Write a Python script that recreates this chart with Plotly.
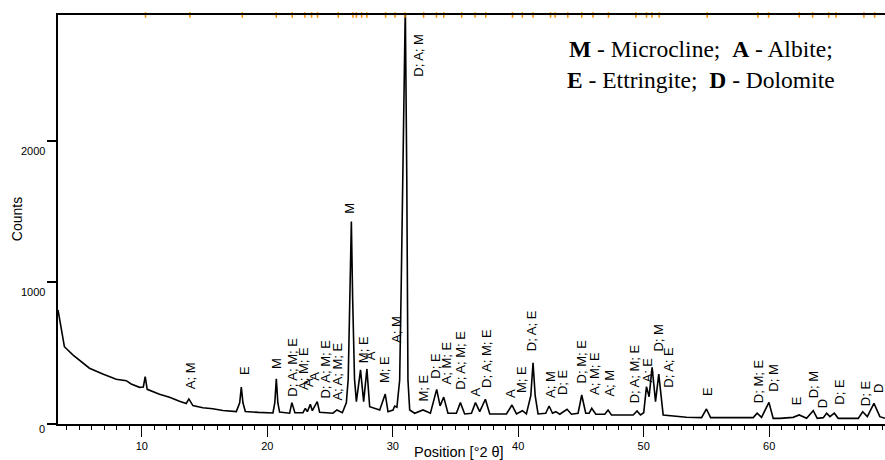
import plotly.graph_objects as go

# ---- diffraction pattern (2theta, counts) ----
two_theta = [3.32, 3.83, 4.5, 5.83, 6.89, 7.96, 8.76, 9.15, 9.82, 10.12, 10.27, 10.43,
             11.41, 12.21, 13.0, 13.54, 13.75, 14.07, 14.86, 15.66, 16.46, 17.53, 17.8, 17.93,
             18.06, 18.25, 19.3, 20.45, 20.6, 20.72, 20.84, 20.98, 21.78, 21.96, 22.2, 22.84,
             23.03, 23.19, 23.43, 23.59, 23.98, 24.17, 25.23, 25.55, 25.98, 26.3, 26.45,
             26.6, 26.7, 26.8, 26.95, 27.1, 27.43, 27.68, 27.94, 28.16, 28.96, 29.4, 29.62,
             30.02, 30.15, 30.33, 30.55, 30.68, 30.85, 31.0, 31.12, 31.21, 31.35, 31.75,
             32.41, 33.0, 33.5, 33.77, 34.06, 34.4, 35.07, 35.39, 35.73, 36.27, 36.59, 36.93,
             37.38, 37.73, 39.06, 39.5, 39.86, 40.33, 40.65, 41.0, 41.18, 41.35, 41.58, 42.19,
             42.46, 42.73, 42.99, 43.31, 43.89, 44.24, 44.77, 45.06, 45.38, 45.65, 45.86,
             46.18, 46.9, 47.16, 47.43, 49.16, 49.47, 49.74, 50.0, 50.22, 50.43, 50.67, 50.94,
             51.2, 51.55, 53.41, 54.61, 55.0, 55.33, 58.73, 59.04, 59.39, 59.98, 60.32, 60.85,
             61.91, 62.39, 62.98, 63.51, 63.83, 64.31, 64.58, 64.84, 65.19, 65.5, 67.1, 67.45,
             67.82, 68.35, 68.82, 69.22]
counts = [806, 546, 488, 394, 353, 316, 306, 283, 259, 262, 334, 245,
          210, 189, 160, 145, 177, 130, 115, 108, 95, 88, 150, 260,
          150, 88, 82, 78, 150, 320, 150, 84, 76, 151, 80, 80,
          111, 87, 139, 94, 158, 83, 76, 99, 80, 150, 320,
          900, 1430, 900, 320, 158, 382, 158, 389, 122, 99, 212, 87,
          99, 127, 118, 311, 1018, 2100, 2950, 1700, 311, 99, 76,
          99, 76, 245, 128, 190, 76, 76, 151, 71, 76, 151, 87,
          175, 71, 71, 134, 71, 94, 71, 200, 433, 200, 71, 76,
          127, 76, 87, 69, 104, 69, 76, 205, 76, 76, 111,
          69, 69, 99, 64, 64, 92, 64, 80, 264, 193, 401, 158,
          353, 64, 48, 45, 106, 45, 45, 76, 47, 153, 40, 40,
          47, 64, 40, 94, 40, 45, 76, 52, 76, 40, 40, 87,
          52, 146, 52, 40]

# ---- phase labels over the peaks ----
label_text = ["A; M", "E", "M", "D; A; M; E", "A; M; E", "A", "A", "D; A; M; E", "A; A; M; E",
              "M", "M; E", "A", "M; E", "A; M", "D; A; M", "M; E", "D; E", "A; M; E",
              "D; A; M; E", "A", "D; A; M; E", "A", "M; E", "D; A; E", "A; M", "D; E",
              "D; M; E", "A; M; E", "A; M", "D; A; M; E", "A; E", "D; M", "D; A; E", "E",
              "D; M; E", "D; M", "E", "D; M", "D", "D; E", "D; E", "D"]
label_theta = [13.84, 18.23, 20.74, 22.04, 22.9, 23.33, 23.81, 24.63, 25.63,
               26.56, 27.68, 28.24, 29.35, 30.29, 32.09, 32.46, 33.42, 34.27,
               35.39, 36.61, 37.46, 39.38, 40.26, 41.05, 42.57, 43.52,
               45.04, 46.02, 47.3, 49.29, 50.27, 51.15, 51.95, 55.14,
               59.12, 60.32, 62.13, 63.56, 64.26, 65.64, 67.63, 68.72]
label_counts = [228, 329, 375, 182, 228, 245, 288, 165, 151,
                1472, 417, 438, 276, 558, 2443, 146, 304, 264,
                228, 182, 240, 170, 205, 500, 170, 193,
                276, 193, 182, 134, 276, 495, 240, 182,
                134, 212, 122, 170, 99, 122, 111, 205]

# ---- reference peak markers along the top border ----
ref_theta = [10.30, 13.83, 18.01, 20.72, 21.99, 23.0, 23.53, 24.01, 25.66, 26.83, 27.10,
             27.52, 27.94, 29.43, 30.18, 30.97, 32.46, 33.48, 34.06, 35.49, 36.56, 37.41,
             39.54, 40.33, 41.18, 42.57, 42.94, 43.95, 45.06, 45.96, 47.19, 49.37, 50.22,
             50.65, 51.23, 55.06, 59.10, 59.95, 62.39, 63.46, 64.74, 65.32, 67.55, 68.40]

y_ticks = [0, 1000, 2000]
x_range = [3.32, 69.23]
y_top = 2890

fig = go.Figure()
fig.add_trace(go.Scatter(x=two_theta, y=counts, mode="lines",
                         line=dict(color="black", width=1.6), hoverinfo="skip"))
fig.add_trace(go.Scatter(x=ref_theta, y=[y_top] * len(ref_theta), mode="markers",
                         marker=dict(symbol="line-ns", size=4, color="#ff8c00",
                                     line=dict(color="#ff8c00", width=1.5)),
                         cliponaxis=False, hoverinfo="skip"))

ann = []
for t, xv, yv in zip(label_text, label_theta, label_counts):
    ann.append(dict(x=xv, y=yv, xref="x", yref="y", text=t, textangle=-90,
                    showarrow=False, xanchor="center", yanchor="bottom",
                    font=dict(family="Liberation Sans, Arial", size=13, color="black")))
for v in y_ticks:
    ann.append(dict(x=0, y=v, xref="paper", yref="y", text=str(v), showarrow=False,
                    xanchor="right", yanchor="middle", xshift=-11,
                    yshift=-10 if v else -5,
                    font=dict(family="Liberation Sans, Arial", size=11, color="black")))
ann.append(dict(x=-0.05, y=0.5, xref="paper", yref="paper", text="Counts",
                textangle=-90, showarrow=False, xanchor="center", yanchor="middle",
                font=dict(family="Liberation Sans, Arial", size=14, color="black")))
ann.append(dict(x=35.3, y=-0.068, xref="x", yref="paper", text="Position [°2 θ]",
                showarrow=False, xanchor="center", yanchor="middle",
                font=dict(family="Liberation Sans, Arial", size=14.5, color="black")))
ann.append(dict(x=0.777, y=0.88, xref="paper", yref="paper",
                text="<b>M</b> - Microcline;&nbsp; <b>A</b> - Albite;<br>"
                     "<b>E</b> - Ettringite;&nbsp; <b>D</b> - Dolomite",
                showarrow=False, xanchor="center", yanchor="middle", align="center",
                font=dict(family="Liberation Serif, Times New Roman", size=23.5,
                          color="black")))

fig.update_layout(
    width=885, height=460,
    margin=dict(l=58, r=0, t=15, b=36),
    paper_bgcolor="white", plot_bgcolor="white",
    showlegend=False,
    annotations=ann,
    xaxis=dict(range=x_range, showgrid=False, zeroline=False,
               showline=True, linecolor="black", linewidth=1.8, mirror=True,
               ticks="outside", ticklen=11, tickwidth=1.2, tickcolor="black",
               dtick=10, tick0=0,
               minor=dict(ticks="outside", ticklen=4, tickwidth=1, tickcolor="black",
                          dtick=1, showgrid=False),
               tickfont=dict(family="Liberation Sans, Arial", size=11, color="black")),
    yaxis=dict(range=[0, y_top], showgrid=False, zeroline=False,
               showline=True, linecolor="black", linewidth=2,
               ticks="outside", ticklen=9, tickwidth=1.5, tickcolor="black",
               tickvals=y_ticks, showticklabels=False),
)

fig.write_html("out.html")
